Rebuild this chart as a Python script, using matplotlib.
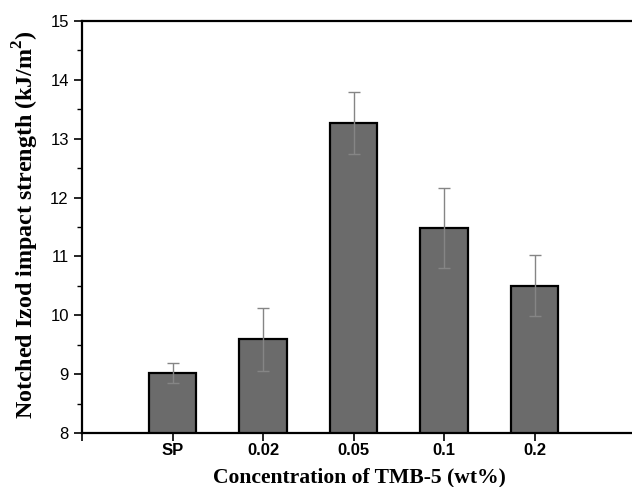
import numpy as np
import matplotlib.pyplot as plt
from matplotlib.ticker import MultipleLocator

labels = ["SP", "0.02", "0.05", "0.1", "0.2"]
strength = [9.02, 9.59, 13.27, 11.48, 10.50]
errors = [0.17, 0.53, 0.53, 0.68, 0.52]

plt.rcParams["mathtext.fontset"] = "custom"
plt.rcParams["mathtext.rm"] = "Liberation Serif:bold"
plt.rcParams["mathtext.bf"] = "Liberation Serif:bold"

fig = plt.figure(figsize=(6.32, 4.87), dpi=100)
# axes run past the right edge of the figure, so the right frame is cut off
ax = fig.add_axes([82 / 632, (487 - 433) / 487, 7 * 90.5 / 632, 412 / 487])

x = np.arange(1, len(labels) + 1)
ax.bar(x, strength, width=0.52, color="#6b6b6b", edgecolor="black", linewidth=1.6,
       yerr=errors, error_kw=dict(ecolor="#858585", elinewidth=1.0, capsize=4, capthick=1.0),
       zorder=2)

ax.set_xlim(0, 7)
ax.set_ylim(8, 15)
ax.set_xticks(np.arange(0, len(labels) + 1))
ax.set_xticklabels([""] + labels, fontfamily="Liberation Sans", fontweight="bold", fontsize=12)
ax.yaxis.set_major_locator(MultipleLocator(1))
ax.yaxis.set_minor_locator(MultipleLocator(0.5))
for lab in ax.get_yticklabels():
    lab.set_fontfamily("Liberation Sans")
    lab.set_fontsize(12)

ax.tick_params(axis="y", which="major", direction="out", length=6, width=1.2)
ax.tick_params(axis="x", which="major", direction="out", length=5.5, width=1.2, pad=1.5)
ax.tick_params(axis="y", which="minor", direction="out", length=3.5, width=1.0)
for side in ["left", "bottom", "top"]:
    ax.spines[side].set_linewidth(1.6)

ax.set_xlabel("Concentration of TMB-5 (wt%)", fontfamily="Liberation Serif",
              fontweight="bold", fontsize=15.6, va="center")
ax.xaxis.set_label_coords((359 - 82) / (7 * 90.5), -(477 - 433) / 412)
ax.set_ylabel("Notched Izod impact strength (kJ/m$^{2}$)", fontfamily="Liberation Serif",
              fontweight="bold", fontsize=17.3, va="center", ha="center")
ax.yaxis.set_label_coords((26 - 82) / (7 * 90.5), (433 - 225) / 412)

fig.savefig("out.png", dpi=100)
